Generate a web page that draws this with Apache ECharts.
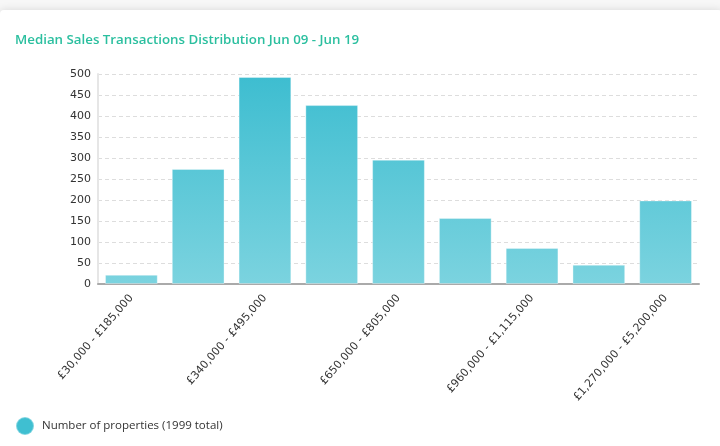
<!DOCTYPE html>
<html>
<head>
<meta charset="utf-8">
<script src="https://cdn.jsdelivr.net/npm/echarts@6/dist/echarts.min.js"></script>
<style>
html,body{margin:0;padding:0;background:#f7f7f7;overflow:hidden;}
#card{position:absolute;left:0;top:10px;width:722px;height:460px;background:#fff;border-radius:4px;box-shadow:0 0 9px rgba(0,0,0,0.13);}
#chart{position:absolute;left:0;top:0;width:720px;height:446px;}
</style>
</head>
<body>
<div id="card"></div>
<div id="chart"></div>
<script>
var categories = ['£30,000 - £185,000','£185,000 - £340,000','£340,000 - £495,000','£495,000 - £650,000','£650,000 - £805,000','£805,000 - £960,000','£960,000 - £1,115,000','£1,115,000 - £1,270,000','£1,270,000 - £5,200,000'];
var counts = [22, 274, 493, 426, 296, 157, 86, 46, 199];
var yTicks = [0, 50, 100, 150, 200, 250, 300, 350, 400, 450, 500];
var seriesName = 'Number of properties (1999 total)';
var titleText = 'Median Sales Transactions Distribution Jun 09 - Jun 19';

var chart = echarts.init(document.getElementById('chart'), null, {renderer:'canvas'});
var option = {
  animation:false,
  backgroundColor:'transparent',
  title:{text:titleText,left:15,top:34,padding:0,textStyle:{color:'#2bbf9f',fontSize:13.3,fontWeight:600,fontFamily:'Open Sans'}},
  legend:{data:[{name:seriesName,icon:'circle',itemStyle:{color:'#3fbfd1'}}],left:15,top:416,padding:0,itemWidth:18,itemHeight:18,
    textStyle:{color:'#333',fontSize:11.5,fontFamily:'Open Sans',padding:[0,0,0,3]}},
  grid:{left:98,right:21,top:74,bottom:162},
  xAxis:{type:'category',data:categories,axisTick:{show:false},
    axisLine:{lineStyle:{color:'#aaaaaa',width:2}},
    axisLabel:{interval:1,rotate:49,margin:12,fontSize:11,color:'#333',fontFamily:'DejaVu Sans'}},
  yAxis:{type:'value',min:yTicks[0],max:yTicks[yTicks.length-1],interval:50,
    axisLine:{show:true,lineStyle:{color:'#e6e6e6',width:2}},axisTick:{show:false},
    axisLabel:{color:'#333',fontSize:11,margin:7,fontFamily:'DejaVu Sans'},
    splitLine:{lineStyle:{color:'#dddddd',type:[4,3],width:1}}},
  series:[{name:seriesName,type:'bar',data:counts,barCategoryGap:'21%',
    itemStyle:{color:{type:'linear',x:0,y:74,x2:0,y2:284,global:true,colorStops:[{offset:0,color:'#3dbdd0'},{offset:1,color:'#7bd3df'}]},
      borderColor:'rgba(255,255,255,0.35)',borderWidth:1}}]
};
chart.setOption(option);
</script>
</body>
</html>
